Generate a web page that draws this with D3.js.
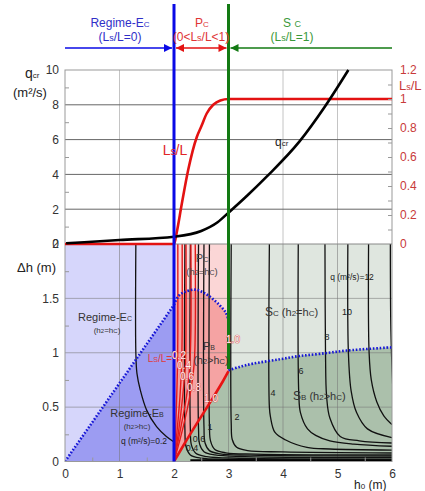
<!DOCTYPE html>
<html lang="en">
<head>
<meta charset="utf-8">
<title>Regime chart</title>
<script type="text/javascript" src="https://d3js.org/d3.v7.min.js"></script>
<style>
  body { margin: 0; background: #fff; }
  svg { font-family: Arial, "Liberation Sans", sans-serif; }
</style>
</head>
<body>
<script type="text/javascript">
  // ---- data ----
  // top panel: Ls/L (right axis) and q_cr (left axis) against h0
  var lslCurve = [[0,0],[2,0],[2.05,0.08],[2.14,0.27],[2.26,0.51],[2.42,0.74],[2.5,0.81],[2.6,0.9],[2.72,0.96],[2.85,0.99],[3,1],[6,1]];
  var qcrCurve = [[0.02,0.04],[1,0.23],[2,0.42],[2.5,0.75],[2.8,1.25],[3,1.8],[3.35,2.8],[3.7,3.87],[4.3,5.88],[4.77,7.9],[5.2,10]];

  // bottom panel boundaries (h0, dh)
  var ebLine = [[0,0],[2,1.44]];
  var pbTop = [[2,1.44],[2.08,1.52],[2.2,1.56],[2.39,1.58],[2.55,1.55],[2.7,1.5],[2.85,1.43],[2.95,1.37],[3,1.3]];
  var pbSide = [[3,1.3],[3,0.85]];
  var red10 = [[2,0],[2.2,0.17],[2.42,0.35],[2.72,0.59],[2.9,0.74],[3,0.83]];
  var sbTop = [[3,0.84],[3.2,0.87],[3.45,0.9],[3.94,0.94],[4.3,0.97],[4.68,0.99],[5.17,1.02],[6,1.05]];

  // Ls/L contours fanning from h0 = 2
  var redLines = [
    [[2,0],[2.03,0.3],[2.05,0.6],[2.065,0.9],[2.07,1.2],[2.07,2]],
    [[2,0],[2.06,0.3],[2.11,0.6],[2.14,0.9],[2.15,1.2],[2.15,2]],
    [[2,0],[2.09,0.3],[2.16,0.6],[2.21,0.9],[2.22,1.2],[2.22,2]],
    [[2,0],[2.12,0.3],[2.23,0.6],[2.29,0.9],[2.31,1.2],[2.31,2]],
    [[2,0],[2.16,0.3],[2.29,0.6],[2.37,0.9],[2.39,1.2],[2.39,2]]
  ];

  // q contours
  var q02 = [[1.3,2],[1.3,1.0],[1.32,0.81],[1.38,0.66],[1.5,0.47],[1.68,0.32],[1.86,0.23],[2,0.18]];
  var qCurves = [
    [[2.2,2],[2.2,0.3],[2.22,0.14],[2.3,0.06],[2.5,0.03],[3,0.02],[6,0.01]],
    [[2.3,2],[2.3,0.3],[2.32,0.15],[2.4,0.075],[2.6,0.045],[3.2,0.03],[6,0.022]],
    [[2.45,2],[2.45,0.3],[2.47,0.16],[2.55,0.09],[2.75,0.06],[3.3,0.045],[6,0.035]],
    [[2.55,2],[2.55,0.32],[2.57,0.17],[2.65,0.1],[2.85,0.07],[3.4,0.058],[6,0.05]],
    [[2.65,2],[2.65,0.34],[2.67,0.19],[2.75,0.11],[2.95,0.08],[3.5,0.068],[6,0.06]],
    [[3.05,2],[3.05,0.35],[3.07,0.2],[3.15,0.13],[3.35,0.1],[4,0.088],[6,0.078]],
    [[3.75,2],[3.75,0.5],[3.77,0.41],[3.85,0.27],[4.04,0.2],[4.44,0.13],[4.86,0.115],[6,0.105]],
    [[4.28,2],[4.29,0.62],[4.32,0.45],[4.45,0.3],[4.6,0.24],[4.86,0.19],[5.3,0.16],[6,0.14]],
    [[4.77,2],[4.78,1.0],[4.8,0.6],[4.86,0.4],[5.05,0.23],[5.4,0.19],[6,0.17]],
    [[5.19,2],[5.2,1.0],[5.25,0.65],[5.35,0.45],[5.55,0.3],[6,0.22]],
    [[5.57,2],[5.58,1.0],[5.62,0.75],[5.72,0.55],[5.85,0.42],[6,0.34]],
    [[5.97,2],[5.98,1.2],[6.02,0.6]]
  ];

  var qTickLeft = [0,2,4,6,8,10];
  var lslTicks = [0,0.2,0.4,0.6,0.8,1,1.2];
  var dhTicks = [0,0.5,1,1.5,2];
  var h0Ticks = [0,1,2,3,4,5,6];

  // ---- chart ----
  var w = 425, h = 491;
  var svg = d3.select("body").append("svg").attr("width", w).attr("height", h);

  var x = d3.scaleLinear().domain([0, 6]).range([65, 392]);
  var yQ = d3.scaleLinear().domain([0, 10]).range([244, 70]);
  var yR = d3.scaleLinear().domain([0, 1.2]).range([244, 70]);
  var yH = d3.scaleLinear().domain([0, 2]).range([461.5, 244]);

  var lineTop = function(sc) {
    return d3.line().x(function(d) { return x(d[0]); }).y(function(d) { return sc(d[1]); })
      .curve(d3.curveMonotoneX);
  };
  var lineH = d3.line().x(function(d) { return x(d[0]); }).y(function(d) { return yH(d[1]); });
  var curveH = d3.line().x(function(d) { return x(d[0]); }).y(function(d) { return yH(d[1]); })
    .curve(d3.curveCatmullRom.alpha(0.5));

  svg.append("defs").append("clipPath").attr("id", "clipB")
    .append("rect").attr("x", x(0)).attr("y", yH(2)).attr("width", x(6) - x(0)).attr("height", yH(0) - yH(2));

  function rich(px, py, parts, fill, size, anchor) {
    var t = svg.append("text").attr("x", px).attr("y", py)
      .attr("text-anchor", anchor || "middle").attr("fill", fill).style("font-size", size + "px");
    parts.forEach(function(p) {
      var s = t.append("tspan").text(p[0]);
      if (p[1]) s.style("font-size", p[1] + "px");
    });
    return t;
  }

  // ---- bottom panel fills ----
  var gB = svg.append("g").attr("clip-path", "url(#clipB)");
  function band(x0, x1, color) {
    gB.append("rect").attr("x", x(x0)).attr("y", yH(2)).attr("width", x(x1) - x(x0))
      .attr("height", yH(0) - yH(2)).attr("fill", color);
  }
  band(0, 2, "#d6d6fb");
  band(2, 3, "#fbd6d6");
  band(3, 6, "#dfe6df");
  gB.append("path").attr("d", lineH([[0,0]].concat(ebLine, [[2,0]])) + "Z").attr("fill", "#9c9cf2");
  gB.append("path")
    .attr("d", curveH(pbTop) + lineH(pbSide).replace(/^M/, "L") + curveH(red10.slice().reverse()).replace(/^M/, "L") + "Z")
    .attr("fill", "#f5a3a3");
  gB.append("path")
    .attr("d", curveH(red10) + curveH(sbTop).replace(/^M/, "L") + "L" + x(6) + "," + yH(0) + "Z")
    .attr("fill", "#abc0ab");

  // grids
  [1,2,3,4,5].forEach(function(v) {
    gB.append("line").attr("x1", x(v)).attr("x2", x(v)).attr("y1", yH(0)).attr("y2", yH(2))
      .attr("stroke", "#777").attr("stroke-opacity", 0.55);
    svg.append("line").attr("x1", x(v)).attr("x2", x(v)).attr("y1", yQ(0)).attr("y2", yQ(10))
      .attr("stroke", "#c4c4c4");
  });
  [0.5,1,1.5].forEach(function(v) {
    gB.append("line").attr("x1", x(0)).attr("x2", x(6)).attr("y1", yH(v)).attr("y2", yH(v))
      .attr("stroke", "#777").attr("stroke-opacity", 0.55);
  });
  [2,4,6,8].forEach(function(v) {
    svg.append("line").attr("x1", x(0)).attr("x2", x(6)).attr("y1", yQ(v)).attr("y2", yQ(v))
      .attr("stroke", "#666");
  });

  // q contours
  gB.append("path").attr("d", curveH(q02)).attr("fill", "none").attr("stroke", "#111").attr("stroke-width", 1.3);
  qCurves.forEach(function(c) {
    gB.append("path").attr("d", curveH(c)).attr("fill", "none").attr("stroke", "#111").attr("stroke-width", 1.3);
  });
  gB.append("line").attr("x1", x(2.3)).attr("x2", x(6)).attr("y1", yH(0.008)).attr("y2", yH(0.008))
    .attr("stroke", "#000").attr("stroke-width", 3);

  // Ls/L contours
  redLines.forEach(function(c) {
    gB.append("path").attr("d", curveH(c)).attr("fill", "none").attr("stroke", "#e31b1b").attr("stroke-width", 1.4);
  });
  gB.append("path").attr("d", curveH(red10)).attr("fill", "none").attr("stroke", "#e81414").attr("stroke-width", 2.6);

  // dotted regime boundaries
  var dotted = function(d) {
    gB.append("path").attr("d", d).attr("fill", "none").attr("stroke", "#1616d6")
      .attr("stroke-width", 2.6).attr("stroke-dasharray", "1.6,1.8");
  };
  dotted(lineH(ebLine));
  dotted(curveH(pbTop));
  dotted(lineH(pbSide));
  dotted(curveH(sbTop));

  // ---- frames ----
  svg.append("rect").attr("x", x(0)).attr("y", yQ(10)).attr("width", x(6) - x(0)).attr("height", yH(0) - yQ(10))
    .attr("fill", "none").attr("stroke", "#999");
  svg.append("line").attr("x1", x(0)).attr("x2", x(6)).attr("y1", yQ(0)).attr("y2", yQ(0)).attr("stroke", "#888");

  // ---- top panel curves ----
  svg.append("path").attr("d", lineTop(yR)(lslCurve))
    .attr("fill", "none").attr("stroke", "#e31212").attr("stroke-width", 2.6);
  svg.append("path").attr("d", lineTop(yQ)(qcrCurve))
    .attr("fill", "none").attr("stroke", "#000").attr("stroke-width", 2.6);

  // ---- regime dividers ----
  svg.append("line").attr("x1", x(2)).attr("x2", x(2)).attr("y1", 4).attr("y2", yH(0))
    .attr("stroke", "#0a0ae6").attr("stroke-width", 3);
  svg.append("line").attr("x1", x(3)).attr("x2", x(3)).attr("y1", 4).attr("y2", yH(0.85))
    .attr("stroke", "#137a13").attr("stroke-width", 3);

  // header arrows
  var defs = svg.select("defs");
  function marker(id, color) {
    defs.append("marker").attr("id", id).attr("viewBox", "0 0 10 10").attr("refX", 10).attr("refY", 5)
      .attr("markerWidth", 7).attr("markerHeight", 5).attr("orient", "auto-start-reverse")
      .append("path").attr("d", "M0,0L10,5L0,10z").attr("fill", color);
  }
  marker("ab", "#0a0ae6");
  marker("ar", "#e31212");
  marker("ag", "#137a13");
  svg.append("line").attr("x1", x(0)).attr("x2", x(2) - 2).attr("y1", 48).attr("y2", 48)
    .attr("stroke", "#0a0ae6").attr("stroke-width", 1.6).attr("marker-end", "url(#ab)");
  svg.append("line").attr("x1", x(2) + 2).attr("x2", x(3) - 2).attr("y1", 48).attr("y2", 48)
    .attr("stroke", "#e31212").attr("stroke-width", 1.6).attr("marker-end", "url(#ar)").attr("marker-start", "url(#ar)");
  svg.append("line").attr("x1", x(6)).attr("x2", x(3) + 2).attr("y1", 48).attr("y2", 48)
    .attr("stroke", "#137a13").attr("stroke-width", 1.6).attr("marker-end", "url(#ag)");

  rich(120, 27, [["Regime-E"], ["C", 8]], "#2f2fc8", 12);
  rich(120, 41, [["(L"], ["s", 9], ["/L=0)"]], "#2f2fc8", 12);
  rich(202, 27, [["P"], ["C", 8]], "#e03535", 12);
  rich(201, 41, [["(0<L"], ["s", 9], ["/L<1)"]], "#e03535", 12);
  rich(292, 27, [["S "], ["C", 9]], "#3a993a", 12);
  rich(292, 41, [["(L"], ["s", 9], ["/L=1)"]], "#3a993a", 12);

  // ---- axes ----
  function styleAxis(g, color) {
    g.select(".domain").remove();
    g.selectAll("text").style("font-size", "12px").attr("fill", color)
      .style("font-family", "Arial, 'Liberation Sans', sans-serif");
    g.selectAll("line").attr("stroke", "#999");
  }
  var fmt = d3.format("~g");
  styleAxis(svg.append("g").attr("transform", "translate(" + x(0) + ",0)")
    .call(d3.axisLeft(yQ).tickValues(qTickLeft).tickSize(0).tickPadding(6).tickFormat(fmt)), "#333");
  styleAxis(svg.append("g").attr("transform", "translate(" + x(0) + ",0)")
    .call(d3.axisLeft(yQ).tickValues([1,3,5,7,9]).tickSize(-4).tickFormat("")), "#333");
  styleAxis(svg.append("g").attr("transform", "translate(" + x(6) + ",0)")
    .call(d3.axisRight(yR).tickValues(lslTicks).tickSize(0).tickPadding(8).tickFormat(fmt)), "#c83a3a");
  styleAxis(svg.append("g").attr("transform", "translate(" + x(6) + ",0)")
    .call(d3.axisRight(yR).tickValues(d3.range(1, 12).map(function(i) { return i / 10; })).tickSize(-4).tickFormat("")), "#333");
  styleAxis(svg.append("g").attr("transform", "translate(" + x(0) + ",0)")
    .call(d3.axisLeft(yH).tickValues(dhTicks).tickSize(0).tickPadding(6).tickFormat(fmt)), "#333");
  styleAxis(svg.append("g").attr("transform", "translate(" + x(0) + ",0)")
    .call(d3.axisLeft(yH).tickValues([0.25,0.75,1.25,1.75]).tickSize(-4).tickFormat("")), "#333");
  styleAxis(svg.append("g").attr("transform", "translate(0," + yH(0) + ")")
    .call(d3.axisBottom(x).tickValues(h0Ticks).tickSize(0).tickPadding(8).tickFormat(fmt)), "#333");
  styleAxis(svg.append("g").attr("transform", "translate(0," + yH(0) + ")")
    .call(d3.axisBottom(x).tickValues([0.5,1.5,2.5,3.5,4.5,5.5]).tickSize(-4).tickFormat("")), "#333");

  // axis titles
  rich(25, 78, [["q", 14], ["cr", 8]], "#222", 14, "start");
  rich(13, 97, [["(m\u00b2/s)"]], "#222", 13, "start");
  rich(17, 272, [["\u0394h (m)"]], "#222", 13, "start");
  rich(354, 489, [["h"], ["0", 8], [" (m)"]], "#222", 12, "start");
  rich(399, 90, [["L"], ["s", 9], ["/L"]], "#c83a3a", 13, "start");

  // top panel labels
  rich(175, 155, [["L"], ["s", 10], ["/L"]], "#e02525", 14);
  rich(275, 146, [["q", 12], ["cr", 8]], "#222", 12, "start");

  // bottom panel labels
  rich(105, 321, [["Regime-E"], ["C", 7]], "#333", 11);
  rich(107, 333, [["(h"], ["2", 6], ["=h"], ["C", 6], [")"]], "#333", 8);
  rich(137, 417, [["Regime-E"], ["B", 7]], "#333", 11);
  rich(137, 429, [["(h"], ["2", 6], [">h"], ["C", 6], [")"]], "#333", 8);
  rich(144, 444, [["q (m\u00b2/s)=0.2"]], "#222", 8.5);
  rich(202, 262, [["P"], ["C", 7]], "#444", 11);
  rich(202, 275, [["(h"], ["2", 7], ["=h"], ["C", 7], [")"]], "#444", 9.5);
  rich(209, 350, [["P"], ["B", 7]], "#333", 11);
  rich(211, 364, [["(h"], ["2", 8], [">h"], ["C", 8], [")"]], "#333", 10.5);
  rich(265, 316, [["S", 12], ["C", 8], [" (h"], ["2", 8], ["=h"], ["C", 8], [")"]], "#333", 11, "start");
  rich(293, 400, [["S", 12], ["B", 8], [" (h"], ["2", 8], [">h"], ["C", 8], [")"]], "#333", 11, "start");
  rich(352, 280, [["q (m\u00b2/s)=12"]], "#222", 8.5);

  var qLabels = [["10", 347, 315], ["8", 327, 340], ["6", 301, 374], ["4", 273, 396], ["2", 237, 420],
                 ["1", 210, 430], ["0.6", 199, 442], ["0.4", 192, 451]];
  qLabels.forEach(function(l) { rich(l[1], l[2], [[l[0]]], "#222", 9); });

  rich(160, 362, [["L"], ["S", 7], ["/L="]], "#e03a3a", 10);
  var lsLabels = [["0.2", 179, 359], ["0.4", 184, 369], ["0.6", 187, 380], ["0.8", 194, 391], ["1.0", 211, 402], ["1.0", 233, 343]];
  lsLabels.forEach(function(l) {
    rich(l[1], l[2], [[l[0]]], "#fff2f2", 10).attr("stroke", "#d43a3a").attr("stroke-width", 0.7)
      .style("paint-order", "stroke");
  });
</script>
</body>
</html>
